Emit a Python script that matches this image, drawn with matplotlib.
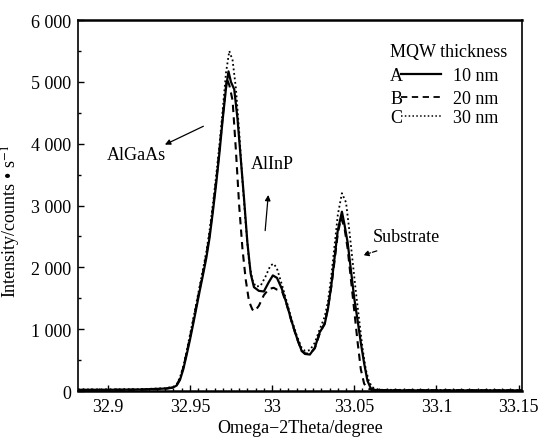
import numpy as np
import matplotlib
matplotlib.use("Agg")
import matplotlib.pyplot as plt
from matplotlib.ticker import MultipleLocator

plt.rcParams['font.family'] = ['Liberation Serif', 'DejaVu Serif']
plt.rcParams['mathtext.fontset'] = 'stix'

# curve A, 10 nm (solid)
x_a = [32.882, 32.90, 32.92, 32.935, 32.940, 32.942, 32.944, 32.946, 32.948, 32.950,
       32.952, 32.954, 32.956, 32.958, 32.960, 32.962, 32.964, 32.966, 32.968, 32.970,
       32.972, 32.9735, 32.975, 32.977, 32.979, 32.981, 32.983, 32.985, 32.987, 32.989,
       32.992, 32.995, 32.998, 33.0005, 33.003, 33.006, 33.009, 33.012, 33.015, 33.018,
       33.020, 33.023, 33.026, 33.029, 33.032, 33.034, 33.036, 33.038, 33.040, 33.0425,
       33.044, 33.046, 33.048, 33.050, 33.052, 33.054, 33.056, 33.058, 33.060, 33.063,
       33.08, 33.152]
y_a = [20, 20, 25, 40, 60, 90, 180, 350, 580, 820,
       1080, 1350, 1620, 1880, 2150, 2480, 2900, 3350, 3850, 4400,
       4900, 5170, 5000, 4880, 4400, 3750, 3100, 2400, 1900, 1680,
       1620, 1610, 1760, 1870, 1830, 1650, 1400, 1120, 870, 650,
       600, 590, 700, 950, 1080, 1330, 1700, 2150, 2600, 2900,
       2700, 2400, 1950, 1500, 1150, 780, 450, 170, 45, 15,
       10, 10]

# curve B, 20 nm (dashed)
x_b = [32.882, 32.92, 32.935, 32.940, 32.942, 32.944, 32.946, 32.948, 32.950, 32.952,
       32.954, 32.956, 32.958, 32.960, 32.962, 32.964, 32.966, 32.968, 32.970, 32.9725,
       32.974, 32.976, 32.978, 32.980, 32.982, 32.984, 32.986, 32.988, 32.9895, 32.992,
       32.995, 32.998, 33.001, 33.003, 33.006, 33.009, 33.012, 33.015, 33.018, 33.020,
       33.023, 33.026, 33.029, 33.032, 33.034, 33.036, 33.038, 33.040, 33.042, 33.044,
       33.046, 33.048, 33.050, 33.052, 33.054, 33.056, 33.058, 33.062, 33.152]
y_b = [15, 20, 35, 55, 100, 200, 380, 610, 860, 1120,
       1390, 1660, 1920, 2200, 2530, 2950, 3400, 3900, 4450, 5050,
       4950, 4700, 3900, 3000, 2300, 1800, 1450, 1320, 1290, 1380,
       1550, 1650, 1670, 1640, 1620, 1390, 1110, 860, 650, 610,
       600, 690, 930, 1100, 1350, 1680, 2100, 2550, 2800, 2650,
       2300, 1800, 1300, 800, 350, 120, 40, 15, 10]

# curve C, 30 nm (dotted)
x_c = [32.882, 32.92, 32.935, 32.940, 32.942, 32.944, 32.946, 32.948, 32.950, 32.952,
       32.954, 32.956, 32.958, 32.960, 32.962, 32.964, 32.966, 32.968, 32.970, 32.972,
       32.974, 32.976, 32.978, 32.980, 32.982, 32.984, 32.986, 32.988, 32.990, 32.993,
       32.996, 32.999, 33.001, 33.003, 33.006, 33.009, 33.012, 33.015, 33.018, 33.020,
       33.023, 33.026, 33.029, 33.032, 33.034, 33.036, 33.038, 33.040, 33.0425, 33.045,
       33.047, 33.049, 33.051, 33.053, 33.055, 33.057, 33.059, 33.061, 33.065, 33.152]
y_c = [25, 30, 45, 70, 110, 220, 400, 640, 900, 1160,
       1430, 1700, 1970, 2250, 2600, 3020, 3480, 3980, 4550, 5150,
       5500, 5350, 4900, 4200, 3400, 2700, 2100, 1800, 1690, 1700,
       1850, 2030, 2060, 1980, 1720, 1440, 1150, 900, 700, 650,
       660, 780, 1000, 1200, 1450, 1850, 2350, 2850, 3200, 3050,
       2600, 2100, 1600, 1150, 700, 350, 150, 60, 20, 15]

xticks = [32.9, 32.95, 33, 33.05, 33.1, 33.15]
xtick_labels = ["32.9", "32.95", "33", "33.05", "33.1", "33.15"]
yticks = [0, 1000, 2000, 3000, 4000, 5000, 6000]
ytick_labels = ["0", "1 000", "2 000", "3 000", "4 000", "5 000", "6 000"]

series_names = ["A", "B", "C"]
series_labels = ["10 nm", "20 nm", "30 nm"]

fig = plt.figure(figsize=(5.42, 4.39), dpi=100)
ax = fig.add_axes([0.144, 0.107, 0.819, 0.845])

ax.plot(x_a, y_a, color='black', lw=1.6, ls='-')
ax.plot(x_b, y_b, color='black', lw=1.5, ls=(0, (3.5, 2.5)))
ax.plot(x_c, y_c, color='black', lw=1.3, ls=(0, (1, 1.5)))

ax.set_xlim(32.882, 33.152)
ax.set_ylim(0, 6000)
ax.set_xticks(xticks)
ax.set_xticklabels(xtick_labels)
ax.set_yticks(yticks)
ax.set_yticklabels(ytick_labels)
ax.xaxis.set_minor_locator(MultipleLocator(0.005))
ax.yaxis.set_minor_locator(MultipleLocator(500))
ax.tick_params(which='both', direction='in', top=False, right=False, labelsize=13, pad=5)
ax.tick_params(which='major', length=4, width=1)
ax.tick_params(which='minor', length=2.5, width=1)
for s in ['top', 'bottom']:
    ax.spines[s].set_linewidth(1.8)
for s in ['left', 'right']:
    ax.spines[s].set_linewidth(1.2)

ax.set_xlabel("Omega\u22122Theta/degree", fontsize=13, labelpad=3)
ax.set_ylabel("Intensity/counts \u2022 s$^{-1}$", fontsize=13, labelpad=4)
ax.yaxis.set_label_coords(-0.125, 0.46)

# legend drawn by hand: letter, line sample, thickness
ax.text(0.703, 0.914, "MQW thickness", transform=ax.transAxes, fontsize=13, va='center')
styles = [dict(lw=1.6, ls='-'), dict(lw=1.3, ls=(0, (3.5, 2.5))), dict(lw=1.1, ls=(0, (1, 1.5)))]
rows_y = [0.851, 0.789, 0.738]
for name, lab, st, yy in zip(series_names, series_labels, styles, rows_y):
    ax.text(0.703, yy, name, transform=ax.transAxes, fontsize=13, va='center')
    ax.plot([0.728, 0.818], [yy + 0.004, yy + 0.004], transform=ax.transAxes, color='black', **st)
    ax.text(0.844, yy, lab, transform=ax.transAxes, fontsize=13, va='center')

# peak annotations
ax.annotate("", xy=(0.190, 0.661), xytext=(0.288, 0.717), xycoords='axes fraction',
            arrowprops=dict(arrowstyle='-|>', color='black', lw=0.9, mutation_scale=8))
ax.text(0.065, 0.638, "AlGaAs", transform=ax.transAxes, fontsize=13, va='center')
ax.annotate("", xy=(0.429, 0.536), xytext=(0.421, 0.425), xycoords='axes fraction',
            arrowprops=dict(arrowstyle='-|>', color='black', lw=0.9, mutation_scale=8))
ax.text(0.390, 0.614, "AlInP", transform=ax.transAxes, fontsize=13, va='center')
ax.annotate("", xy=(0.636, 0.364), xytext=(0.679, 0.380), xycoords='axes fraction',
            arrowprops=dict(arrowstyle='-|>', color='black', lw=0.9, ls='--', mutation_scale=8))
ax.text(0.664, 0.416, "Substrate", transform=ax.transAxes, fontsize=13, va='center')

fig.savefig("out.png", dpi=100)
